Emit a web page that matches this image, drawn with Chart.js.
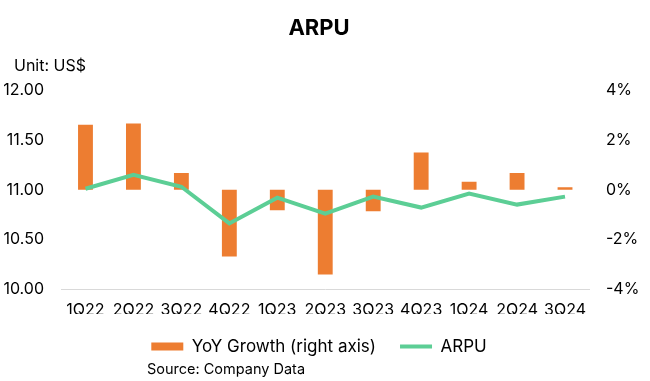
<!DOCTYPE html>
<html>
<head>
<meta charset="utf-8">
<script src="https://cdn.jsdelivr.net/npm/chart.js@4.4.1/dist/chart.umd.min.js"></script>
<style>
  html, body { margin: 0; padding: 0; background: #fff; }
  #wrap { position: relative; width: 650px; height: 381px; }
  canvas { position: absolute; left: 0; top: 0; }
  .note { position: absolute; font-family: Inter, "Noto Sans", sans-serif; color: #000; white-space: nowrap; line-height: 1; }
</style>
</head>
<body>
<div id="wrap">
  <canvas id="c" width="650" height="381"></canvas>
  <div class="note" style="left:14px; top:57px; font-size:16px;">Unit: US$</div>
  <div class="note" style="left:147px; top:362px; font-size:14.5px;">Source: Company Data</div>
</div>
<script>
const categories = ['1Q22','2Q22','3Q22','4Q22','1Q23','2Q23','3Q23','4Q23','1Q24','2Q24','3Q24'];
const yoyGrowth = [2.62, 2.67, 0.67, -2.69, -0.83, -3.42, -0.87, 1.50, 0.32, 0.67, 0.10];
const arpu = [11.01, 11.15, 11.03, 10.66, 10.92, 10.76, 10.93, 10.82, 10.96, 10.85, 10.93];
const leftTicks = [10.00, 10.50, 11.00, 11.50, 12.00];
const rightTicks = [-4, -2, 0, 2, 4];

const FONT = 'Inter, "Noto Sans", sans-serif';
const ORANGE = '#ED7D31';
const GREEN = '#5CCE95';

new Chart(document.getElementById('c'), {
  data: {
    labels: categories,
    datasets: [
      {
        type: 'bar',
        label: 'YoY Growth (right axis)',
        data: yoyGrowth,
        yAxisID: 'y1',
        backgroundColor: ORANGE,
        borderWidth: 0,
        barPercentage: 0.31,
        categoryPercentage: 1.0,
        order: 1
      },
      {
        type: 'line',
        label: 'ARPU',
        data: arpu,
        yAxisID: 'y',
        borderColor: GREEN,
        backgroundColor: GREEN,
        borderWidth: 4,
        pointRadius: 0,
        tension: 0,
        order: 0
      }
    ]
  },
  options: {
    responsive: false,
    animation: false,
    events: [],
    layout: { padding: { left: 0, right: 12, top: 0, bottom: 16 } },
    scales: {
      x: {
        offset: true,
        grid: { display: false, drawTicks: false },
        border: { display: true, color: '#d9d9d9', width: 1 },
        ticks: { color: '#000', font: { family: FONT, size: 16 }, padding: 12, maxRotation: 0, autoSkip: false },
        afterFit(s) { s.height = 25; }
      },
      y: {
        position: 'left',
        min: 10, max: 12,
        afterBuildTicks(s) { s.ticks = leftTicks.map(v => ({ value: v })); },
        grid: { display: false, drawTicks: false },
        border: { display: false },
        ticks: { color: '#000', font: { family: FONT, size: 16 }, padding: 17.5, callback: v => Number(v).toFixed(2) },
        afterFit(s) { s.width = 61.5; }
      },
      y1: {
        position: 'right',
        min: -4, max: 4,
        afterBuildTicks(s) { s.ticks = rightTicks.map(v => ({ value: v })); },
        grid: { display: false, drawTicks: false },
        border: { display: false },
        ticks: { color: '#000', font: { family: FONT, size: 16 }, padding: 17, callback: v => v + '%' },
        afterFit(s) { s.width = 49; }
      }
    },
    plugins: {
      tooltip: { enabled: false },
      title: {
        display: true,
        text: 'ARPU',
        color: '#000',
        font: { family: FONT, size: 22, weight: 'bold' },
        padding: { top: 15, bottom: 49 }
      },
      legend: {
        display: true,
        position: 'bottom',
        labels: {
          color: '#000',
          font: { family: FONT, size: 17 },
          usePointStyle: true,
          pointStyleWidth: 32,
          boxHeight: 8,
          padding: 24,
          generateLabels(chart) {
            const items = Chart.defaults.plugins.legend.labels.generateLabels(chart);
            items.sort((a, b) => a.datasetIndex - b.datasetIndex);
            return items.map(it => {
              if (it.datasetIndex === 0) {
                it.pointStyle = 'rect'; it.lineWidth = 0; it.fillStyle = ORANGE; it.strokeStyle = ORANGE;
              } else {
                it.pointStyle = 'line'; it.lineWidth = 4; it.strokeStyle = GREEN; it.fillStyle = GREEN;
              }
              return it;
            });
          }
        }
      }
    }
  }
});
</script>
</body>
</html>
